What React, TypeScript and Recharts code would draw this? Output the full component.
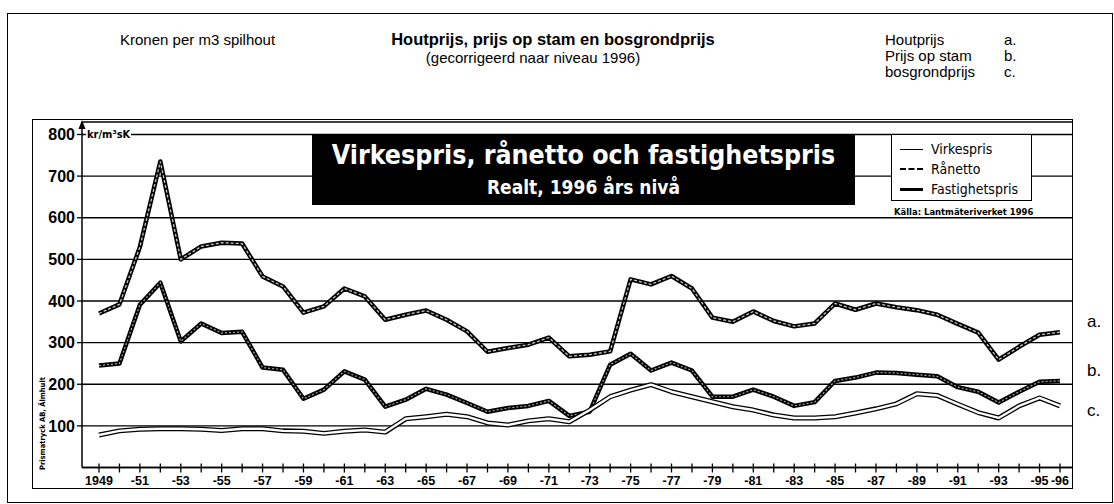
import React from 'react';
import { LineChart, Line, XAxis, YAxis, CartesianGrid, Legend } from 'recharts';

const years = [1949, 1950, 1951, 1952, 1953, 1954, 1955, 1956, 1957, 1958, 1959, 1960, 1961, 1962, 1963, 1964, 1965, 1966, 1967, 1968, 1969, 1970, 1971, 1972, 1973, 1974, 1975, 1976, 1977, 1978, 1979, 1980, 1981, 1982, 1983, 1984, 1985, 1986, 1987, 1988, 1989, 1990, 1991, 1992, 1993, 1994, 1995, 1996];

const virkespris = [370, 392, 530, 735, 500, 531, 540, 538, 459, 435, 372, 387, 430, 411, 355, 367, 377, 355, 327, 278, 287, 295, 312, 267, 271, 279, 452, 440, 460, 430, 360, 350, 375, 352, 339, 346, 394, 379, 394, 385, 378, 367, 345, 324, 259, 290, 319, 325];

const ranetto = [245, 250, 391, 444, 303, 346, 323, 326, 240, 235, 165, 187, 231, 211, 146, 163, 189, 175, 155, 134, 143, 148, 160, 124, 134, 247, 273, 233, 252, 233, 170, 170, 187, 170, 148, 157, 208, 216, 228, 227, 223, 219, 193, 182, 156, 182, 206, 208];

const fastighetspris = [78, 88, 92, 93, 93, 92, 89, 93, 93, 88, 87, 82, 87, 90, 85, 117, 122, 128, 122, 107, 102, 112, 117, 110, 138, 170, 186, 199, 182, 170, 158, 146, 138, 126, 119, 119, 122, 131, 141, 153, 177, 173, 152, 132, 119, 148, 167, 148];

const yTicks = [100, 200, 300, 400, 500, 600, 700, 800];

const seriesNames = ['Virkespris', 'Rånetto', 'Fastighetspris'];
const rightLabels = ['a.', 'b.', 'c.'];
const dutchLegend = ['Houtprijs', 'Prijs op stam', 'bosgrondprijs'];

const data = years.map((year, i) => ({
  year,
  virkespris: virkespris[i],
  ranetto: ranetto[i],
  fastighetspris: fastighetspris[i],
}));

const COND = "'DejaVu Sans Condensed', 'Liberation Sans Narrow', 'DejaVu Sans', sans-serif";
const ARIAL = "'Liberation Sans', Arial, sans-serif";

const formatYear = (y: number) => {
  if (y === 1949) return '1949';
  if (y % 2 === 1 || y === 1996) return '-' + String(y).slice(2);
  return '';
};

const XTick = (props: any) => {
  const { x, y, payload } = props;
  const label = formatYear(payload.value);
  return (
    <g>
      <line x1={x} x2={x} y1={y - 4} y2={y + 5} stroke="#000" strokeWidth={1.3} />
      {label ? (
        <text x={x} y={y + 17} textAnchor="middle" fontSize={12.5} fontWeight="bold" fontFamily={ARIAL} fill="#000">
          {label}
        </text>
      ) : null}
    </g>
  );
};

const sampleStyles = [
  { h: 1.5, dash: false },
  { h: 2.5, dash: true },
  { h: 3.5, dash: false },
];

const LegendBox = () => (
  <div
    style={{
      width: 141,
      height: 67,
      border: '1.2px solid #000',
      background: '#fff',
      boxSizing: 'border-box',
      padding: '4px 0 0 8px',
      fontFamily: COND,
      fontSize: 14,
      color: '#000',
    }}
  >
    {seriesNames.map((n, i) => (
      <div key={n} style={{ display: 'flex', alignItems: 'center', height: 20 }}>
        <div
          style={{
            width: 23,
            height: 0,
            borderTop: `${sampleStyles[i].h}px ${sampleStyles[i].dash ? 'dashed' : 'solid'} #000`,
            marginRight: 8,
          }}
        />
        <span>{n}</span>
      </div>
    ))}
  </div>
);

export default function App() {
  return (
    <div
      style={{
        position: 'absolute',
        left: 0,
        top: 0,
        width: 1114,
        height: 504,
        background: '#fff',
        overflow: 'hidden',
        fontFamily: ARIAL,
      }}
    >
      {/* outer frame */}
      <div style={{ position: 'absolute', left: 7, top: 13, width: 1106, height: 490, border: '1.5px solid #000', boxSizing: 'border-box' }} />
      {/* inner frame */}
      <div style={{ position: 'absolute', left: 32, top: 119, width: 1041, height: 370, border: '1.5px solid #000', boxSizing: 'border-box' }} />

      {/* header texts */}
      <div style={{ position: 'absolute', left: 120, top: 31, fontSize: 15, whiteSpace: 'nowrap' }}>Kronen per m3 spilhout</div>
      <div style={{ position: 'absolute', left: 553, top: 30, transform: 'translateX(-50%)', fontSize: 16.5, fontWeight: 'bold', whiteSpace: 'nowrap' }}>
        Houtprijs, prijs op stam en bosgrondprijs
      </div>
      <div style={{ position: 'absolute', left: 533, top: 49, transform: 'translateX(-50%)', fontSize: 15, whiteSpace: 'nowrap' }}>
        (gecorrigeerd naar niveau 1996)
      </div>
      {dutchLegend.map((t, i) => (
        <React.Fragment key={t}>
          <div style={{ position: 'absolute', left: 885, top: 31 + i * 16, fontSize: 15, whiteSpace: 'nowrap' }}>{t}</div>
          <div style={{ position: 'absolute', left: 1004, top: 31 + i * 16, fontSize: 15, whiteSpace: 'nowrap' }}>{rightLabels[i]}</div>
        </React.Fragment>
      ))}

      <div style={{ position: 'absolute', left: 0, top: 0 }}>
        <LineChart width={1114} height={504} data={data} margin={{ top: 122, right: 42, bottom: 6.5, left: 0 }}>
          <CartesianGrid vertical={false} stroke="#000" strokeWidth={1.3} />
          <XAxis
            dataKey="year"
            type="number"
            domain={[1949, 1996]}
            ticks={years}
            interval={0}
            padding={{ left: 17, right: 12 }}
            height={30}
            tickSize={0}
            tickMargin={0}
            tickLine={false}
            tick={<XTick />}
            axisLine={{ stroke: '#000', strokeWidth: 1.5 }}
          />
          <YAxis
            type="number"
            domain={[0, 830]}
            ticks={yTicks}
            interval={0}
            width={82}
            tickSize={5}
            tickMargin={2}
            tick={{ fontSize: 16, fontWeight: 'bold', fill: '#000', fontFamily: ARIAL }}
            tickLine={{ stroke: '#000', strokeWidth: 1.3 }}
            axisLine={{ stroke: '#000', strokeWidth: 1.5 }}
          />
          <Legend
            layout="horizontal"
            verticalAlign="middle"
            align="center"
            content={<LegendBox />}
            wrapperStyle={{ position: 'absolute', left: 891, top: 134, width: 141, height: 67 }}
          />
          <Line type="linear" dataKey="virkespris" name="Virkespris" stroke="#000" strokeWidth={4.5} dot={false} isAnimationActive={false} strokeLinejoin="round" legendType="none" />
          <Line type="linear" dataKey="virkespris" stroke="#c8c8c8" strokeWidth={1.3} strokeDasharray="3 2" dot={false} isAnimationActive={false} legendType="none" />
          <Line type="linear" dataKey="ranetto" name="Rånetto" stroke="#000" strokeWidth={4.5} dot={false} isAnimationActive={false} strokeLinejoin="round" legendType="none" />
          <Line type="linear" dataKey="ranetto" stroke="#a8a8a8" strokeWidth={1.2} strokeDasharray="2 2" dot={false} isAnimationActive={false} legendType="none" />
          <Line type="linear" dataKey="fastighetspris" name="Fastighetspris" stroke="#000" strokeWidth={5} dot={false} isAnimationActive={false} strokeLinejoin="round" legendType="none" />
          <Line type="linear" dataKey="fastighetspris" stroke="#fff" strokeWidth={2.4} dot={false} isAnimationActive={false} strokeLinejoin="round" legendType="none" />
        </LineChart>
      </div>

      {/* black title box */}
      <div
        style={{
          position: 'absolute',
          left: 312,
          top: 135,
          width: 543,
          height: 70,
          background: '#000',
          color: '#fff',
          fontFamily: COND,
          fontWeight: 'bold',
          textAlign: 'center',
        }}
      >
        <div style={{ fontSize: 26.5, lineHeight: '30px', marginTop: 5, whiteSpace: 'nowrap' }}>Virkespris, rånetto och fastighetspris</div>
        <div style={{ fontSize: 19, lineHeight: '22px', marginTop: 6, whiteSpace: 'nowrap' }}>Realt, 1996 års nivå</div>
      </div>

      {/* unit label */}
      <div style={{ position: 'absolute', left: 86, top: 128, background: '#fff', fontFamily: COND, fontWeight: 'bold', fontSize: 11, lineHeight: '14px', padding: '0 1px', whiteSpace: 'nowrap' }}>
        kr/m³sK
      </div>

      {/* source */}
      <div style={{ position: 'absolute', left: 894, top: 206, fontFamily: COND, fontWeight: 'bold', fontSize: 9.4, lineHeight: '11px', whiteSpace: 'nowrap' }}>
        Källa: Lantmäteriverket 1996
      </div>

      {/* printer credit */}
      <div
        style={{
          position: 'absolute',
          left: 38,
          top: 470,
          transform: 'rotate(-90deg)',
          transformOrigin: '0 0',
          fontFamily: COND,
          fontSize: 7.5,
          fontWeight: 'bold',
          whiteSpace: 'nowrap',
        }}
      >
        Prismatryck AB, Älmhult
      </div>

      {/* right labels */}
      {rightLabels.map((t, i) => (
        <div key={t} style={{ position: 'absolute', left: 1087, top: [312, 361, 401][i], fontSize: 17, whiteSpace: 'nowrap' }}>{t}</div>
      ))}

      {/* axis arrow */}
      <svg width={1114} height={504} style={{ position: 'absolute', left: 0, top: 0, pointerEvents: 'none' }}>
        <path d="M82 120 L78.5 129 L85.5 129 Z" fill="#000" />
      </svg>
    </div>
  );
}
